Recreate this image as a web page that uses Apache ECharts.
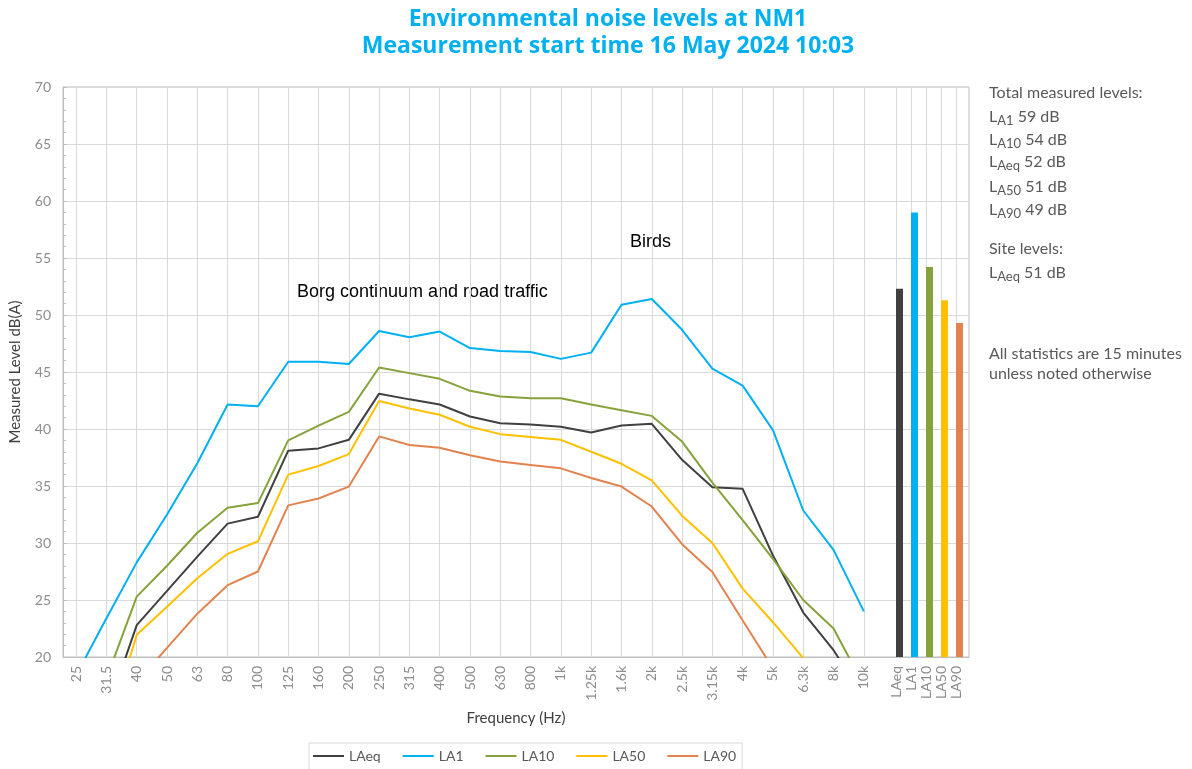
<!DOCTYPE html>
<html>
<head>
<meta charset="utf-8">
<script src="https://cdn.jsdelivr.net/npm/echarts@6/dist/echarts.min.js"></script>
<style>
html,body{margin:0;padding:0;background:#fff;}
#chart{width:1192px;height:769px;}
</style>
</head>
<body>
<div id="chart"></div>
<script>
const freqLabels = ['25','31.5','40','50','63','80','100','125','160','200','250','315','400','500','630','800','1k','1.25k','1.6k','2k','2.5k','3.15k','4k','5k','6.3k','8k','10k'];
const statLabels = ['LAeq','LA1','LA10','LA50','LA90'];
const seriesNames = ['LAeq','LA1','LA10','LA50','LA90'];
const colors = ['#404040','#00b0f0','#86a23c','#ffc000','#e2834f'];

const laeq = [12.0,15.1,22.8,25.8,28.8,31.7,32.3,38.1,38.3,39.05,43.1,42.6,42.15,41.1,40.5,40.4,40.2,39.7,40.3,40.45,37.3,34.9,34.75,28.9,23.9,20.6,16.4];
const la1  = [18.4,23.4,28.3,32.5,37.0,42.15,42.0,45.9,45.9,45.7,48.6,48.05,48.55,47.1,46.85,46.75,46.15,46.7,50.9,51.4,48.7,45.3,43.8,39.9,32.85,29.4,24.0];
const la10 = [15.0,18.1,25.3,28.0,30.9,33.1,33.5,39.0,40.3,41.5,45.4,44.9,44.4,43.35,42.85,42.7,42.7,42.15,41.65,41.15,38.9,35.3,32.0,28.6,25.0,22.5,17.5];
const la50 = [10.0,13.2,21.95,24.4,26.9,29.05,30.15,36.0,36.75,37.8,42.45,41.8,41.25,40.2,39.55,39.3,39.05,38.0,36.95,35.5,32.4,30.0,26.0,23.05,19.9,17.0,14.0];
const la90 = [8.0,11.0,17.8,20.8,23.8,26.3,27.5,33.3,33.9,34.95,39.35,38.6,38.35,37.7,37.15,36.85,36.55,35.7,34.95,33.2,29.9,27.45,23.2,19.0,15.0,12.0,10.0];
const totals = [52.3,59.0,54.2,51.3,49.3];

const yMin = 20, yMax = 70, yStep = 5;
const lineData = [laeq, la1, la10, la50, la90];

const gridTop = 87, gridH = 570;
const labelColor = '#8c8c8c';
const gridColor = '#d9d9d9';
const FONT = 'Lato, "Open Sans", sans-serif';
const ARIAL = '"Liberation Sans", Arial, sans-serif';

const chart = echarts.init(document.getElementById('chart'));

const lineSeries = seriesNames.map((n,i)=>({
  name: n, type: 'line', xAxisIndex: 1, yAxisIndex: 1,
  data: lineData[i], symbol: 'none', clip: true,
  lineStyle: {color: colors[i], width: 2}, itemStyle: {color: colors[i]},
  z: 3
}));

function sub(text, val, y) {
  return {
    type: 'text', x: 989, y: y,
    style: {
      text: '{m|L}{s|' + text + '}{m| ' + val + '}',
      rich: {
        m: {fontSize: 16, lineHeight: 21, fontFamily: FONT, fill: '#595959', color: '#595959'},
        s: {fontSize: 13, lineHeight: 14, verticalAlign: 'bottom', fontFamily: FONT, fill: '#595959', color: '#595959'}
      },
      fill: '#595959'
    }
  };
}
function plain(text, y) {
  return {type: 'text', x: 989, y: y, style: {text: text, fontSize: 16, fontFamily: FONT, fill: '#595959'}};
}

const option = {
  backgroundColor: '#fff',
  animation: false,
  title: {
    text: 'Environmental noise levels at NM1\nMeasurement start time 16 May 2024 10:03',
    left: 603, top: 1, textAlign: 'center',
    textStyle: {color: '#00b0f0', fontSize: 23, fontWeight: 'bold', fontFamily: '"Open Sans", sans-serif', lineHeight: 27}
  },
  legend: {
    data: seriesNames,
    left: 309, top: 743,
    itemWidth: 31, itemHeight: 2, itemGap: 22,
    icon: 'rect',
    borderColor: gridColor, borderWidth: 1,
    padding: [6, 6, 14, 4],
    textStyle: {color: '#595959', fontSize: 14, fontFamily: FONT}
  },
  grid: [
    {left: 61, top: gridTop, width: 908, height: gridH, show: true, borderColor: '#bfbfbf', borderWidth: 1},
    {left: 61, top: gridTop, width: 818, height: gridH},
    {left: 888.5, top: gridTop, width: 75, height: gridH}
  ],
  xAxis: [
    {gridIndex: 0, type: 'value', min: 0, max: 1,
     axisLine: {show: true, lineStyle: {color: '#bfbfbf'}}, axisTick: {show: false}, axisLabel: {show: false}, splitLine: {show: false},
     name: 'Frequency (Hz)', nameLocation: 'middle', nameGap: 54,
     nameTextStyle: {color: '#404040', fontSize: 15, fontFamily: FONT}},
    {gridIndex: 1, type: 'category', data: freqLabels, boundaryGap: true,
     axisLine: {show: false},
     axisTick: {show: true, alignWithLabel: true, inside: true, length: gridH, interval: 0, lineStyle: {color: gridColor, width: 1}},
     axisLabel: {rotate: 90, interval: 0, color: labelColor, fontSize: 14, fontFamily: FONT, margin: 9},
     splitLine: {show: false}},
    {gridIndex: 2, type: 'category', data: statLabels, boundaryGap: true,
     axisLine: {show: false},
     axisTick: {show: true, alignWithLabel: true, inside: true, length: gridH, interval: 0, lineStyle: {color: gridColor, width: 1}},
     axisLabel: {rotate: 90, interval: 0, color: labelColor, fontSize: 14, fontFamily: FONT, margin: 9},
     splitLine: {show: false}}
  ],
  yAxis: [
    {gridIndex: 0, type: 'value', min: yMin, max: yMax, interval: yStep,
     axisLine: {show: true, lineStyle: {color: '#bfbfbf'}},
     axisTick: {show: true, inside: true, length: 4, lineStyle: {color: '#bfbfbf'}},
     minorTick: {show: true, splitNumber: 5, length: 3, lineStyle: {color: '#bfbfbf'}},
     axisLabel: {color: labelColor, fontSize: 14, fontFamily: FONT, margin: 12},
     splitLine: {show: true, lineStyle: {color: gridColor, width: 1}},
     name: 'Measured Level dB(A)', nameLocation: 'middle', nameGap: 40,
     nameTextStyle: {color: '#404040', fontSize: 15, fontFamily: FONT}},
    {gridIndex: 1, type: 'value', min: yMin, max: yMax, interval: yStep, show: false},
    {gridIndex: 2, type: 'value', min: yMin, max: yMax, interval: yStep, show: false}
  ],
  graphic: [
    {type: 'text', x: 297, y: 283, style: {text: 'Borg continuum and road traffic', fontSize: 18, fontFamily: ARIAL, fill: '#000'}},
    {type: 'text', x: 630, y: 233, style: {text: 'Birds', fontSize: 18, fontFamily: ARIAL, fill: '#000'}},
    plain('Total measured levels:', 85),
    sub('A1', '59 dB', 106),
    sub('A10', '54 dB', 129),
    sub('Aeq', '52 dB', 151),
    sub('A50', '51 dB', 176),
    sub('A90', '49 dB', 199),
    plain('Site levels:', 241),
    sub('Aeq', '51 dB', 262),
    plain('All statistics are 15 minutes', 346),
    plain('unless noted otherwise', 366)
  ],
  series: lineSeries.concat([
    {name: '_pad', type: 'bar', xAxisIndex: 2, yAxisIndex: 2, data: statLabels.map(()=>null), barWidth: 7, barGap: 0},
    {name: 'Totals', type: 'bar', xAxisIndex: 2, yAxisIndex: 2, barWidth: 7, barGap: 0,
     data: totals.map((v,i)=>({value: v, itemStyle: {color: colors[i]}}))}
  ])
};
chart.setOption(option);
</script>
</body>
</html>
